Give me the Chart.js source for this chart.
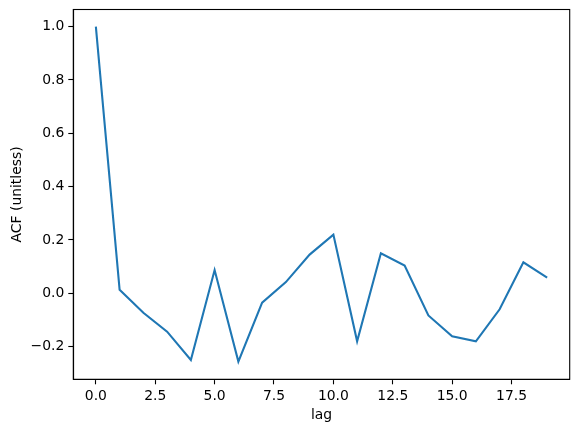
<!DOCTYPE html>
<html>
<head>
<meta charset="utf-8">
<script src="https://cdn.jsdelivr.net/npm/chart.js@4"></script>
<style>html,body{margin:0;padding:0;background:#fff;}canvas{display:block;}</style>
</head>
<body>
<canvas id="c" width="579" height="432"></canvas>
<script>
const lags = [0,1,2,3,4,5,6,7,8,9,10,11,12,13,14,15,16,17,18,19];
const acf = [1.0,0.013,-0.073,-0.144,-0.250,0.087,-0.256,-0.035,0.042,0.145,0.220,-0.180,0.150,0.104,-0.083,-0.161,-0.180,-0.060,0.116,0.059];
const xTicks = [0,2.5,5,7.5,10,12.5,15,17.5];
const yTicks = [-0.2,0,0.2,0.4,0.6,0.8,1.0];
const xLabel = 'lag';
const yLabel = 'ACF (unitless)';

const fmt = v => { const s = Math.abs(v).toFixed(1); return (v < -1e-9 ? '\u2212' : '') + s; };
const FONT = {family: 'DejaVu Sans', size: 13.9};

const framePlugin = {
  id: 'frame',
  afterDraw(chart) {
    const {ctx, chartArea: a} = chart;
    ctx.save();
    ctx.strokeStyle = '#000';
    ctx.lineWidth = 1.1;
    ctx.strokeRect(a.left, a.top, a.right - a.left, a.bottom - a.top);
    ctx.restore();
  }
};

new Chart(document.getElementById('c'), {
  type: 'line',
  data: {
    datasets: [{
      data: lags.map((x, i) => ({x: x, y: acf[i]})),
      borderColor: '#1f77b4',
      borderWidth: 2.1,
      pointRadius: 0,
      tension: 0,
      fill: false
    }]
  },
  options: {
    responsive: false,
    animation: false,
    devicePixelRatio: 1,
    layout: {padding: {top: 9.5, right: 9.3, left: 0, bottom: 0}},
    plugins: {legend: {display: false}, tooltip: {enabled: false}},
    scales: {
      x: {
        type: 'linear',
        min: -0.95, max: 19.95,
        afterBuildTicks: s => { s.ticks = xTicks.map(v => ({value: v})); },
        afterFit: s => { s.height = 52.7; s.paddingLeft = 0; s.paddingRight = 0; },
        ticks: {callback: v => fmt(v), color: '#000', font: FONT, padding: 4, maxRotation: 0, autoSkip: false},
        grid: {drawOnChartArea: false, drawTicks: true, tickLength: 5, tickColor: '#000', tickWidth: 1.1},
        border: {display: true, color: '#000', width: 1.1},
        title: {display: true, text: xLabel, color: '#000', font: FONT, padding: {top: 0, bottom: 8.7}}
      },
      y: {
        type: 'linear',
        min: -0.3225, max: 1.064,
        afterBuildTicks: s => { s.ticks = yTicks.map(v => ({value: v})); },
        afterFit: s => { s.width = 73.3; s.paddingTop = 0; s.paddingBottom = 0; },
        ticks: {callback: v => fmt(v), color: '#000', font: FONT, padding: 4, autoSkip: false},
        grid: {drawOnChartArea: false, drawTicks: true, tickLength: 5, tickColor: '#000', tickWidth: 1.1},
        border: {display: true, color: '#000', width: 1.1},
        title: {display: true, text: yLabel, color: '#000', font: FONT, padding: {top: 8.7, bottom: 0}}
      }
    }
  },
  plugins: [framePlugin]
});
</script>
</body>
</html>
